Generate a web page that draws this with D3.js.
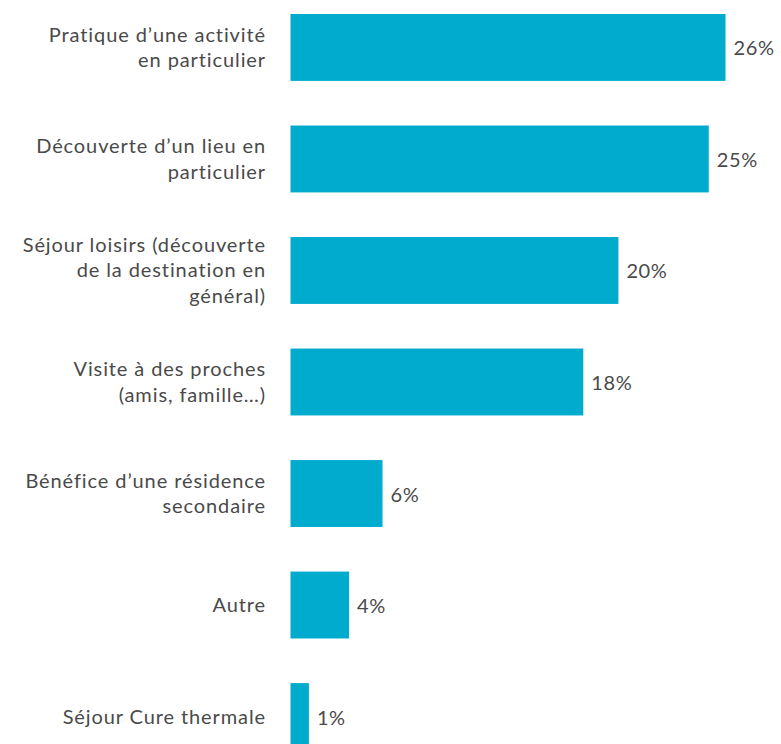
<!DOCTYPE html>
<html>
<head>
<meta charset="utf-8">
<script src="https://cdn.jsdelivr.net/npm/d3@7"></script>
<style>
  body { margin: 0; background: #fff; }
  svg { display: block; }
</style>
</head>
<body>
<svg id="chart" width="781" height="744"></svg>
<script>
// categories, one entry per bar (lines of the wrapped label)
var categories = [
  ["Pratique d\u2019une activité", "en particulier"],
  ["Découverte d\u2019un lieu en", "particulier"],
  ["Séjour loisirs (découverte", "de la destination en", "général)"],
  ["Visite à des proches", "(amis, famille\u2026)"],
  ["Bénéfice d\u2019une résidence", "secondaire"],
  ["Autre"],
  ["Séjour Cure thermale"]
];
// share of respondents, in %
var values = [26, 25, 19.6, 17.5, 5.5, 3.5, 1.1];
var valueLabels = ["26%", "25%", "20%", "18%", "6%", "4%", "1%"];

var svg = d3.select("#chart");
var barColor = "#00abcd";
var textColor = "#4a4a4a";
var lineHeight = 25.6;
var font = "Lato, 'Open Sans', sans-serif";

var ids = d3.range(categories.length);

var xScale = d3.scaleLinear()
  .domain([0, 26])
  .range([290.5, 725.5]);

var yScale = d3.scaleBand()
  .domain(ids)
  .range([14, 750])
  .paddingInner(0.4)
  .paddingOuter(0);

// bars
svg.append("g")
  .selectAll("rect")
  .data(ids)
  .enter()
  .append("rect")
  .attr("x", xScale(0))
  .attr("y", function(i) { return yScale(i); })
  .attr("width", function(i) { return xScale(values[i]) - xScale(0); })
  .attr("height", yScale.bandwidth())
  .attr("fill", barColor);

// value labels
svg.append("g")
  .selectAll("text")
  .data(ids)
  .enter()
  .append("text")
  .attr("x", function(i) { return xScale(values[i]) + 8; })
  .attr("y", function(i) { return yScale(i) + yScale.bandwidth() / 2 + 1; })
  .attr("dy", "0.35em")
  .attr("font-family", font)
  .attr("font-size", 20)
  .attr("letter-spacing", 0.6)
  .attr("fill", textColor)
  .text(function(i) { return valueLabels[i]; });

// category labels, right aligned, centred on the bar
var cat = svg.append("g")
  .selectAll("text")
  .data(ids)
  .enter()
  .append("text")
  .attr("text-anchor", "end")
  .attr("font-family", font)
  .attr("font-size", 20)
  .attr("letter-spacing", 0.9)
  .attr("fill", textColor);

cat.each(function(i) {
  var lines = categories[i];
  var mid = yScale(i) + yScale.bandwidth() / 2;
  var top = mid - (lines.length - 1) * lineHeight / 2;
  d3.select(this).selectAll("tspan")
    .data(lines)
    .enter()
    .append("tspan")
    .attr("x", 266)
    .attr("y", function(d, k) { return top + k * lineHeight; })
    .attr("dy", "0.35em")
    .text(function(d) { return d; });
});
</script>
</body>
</html>
